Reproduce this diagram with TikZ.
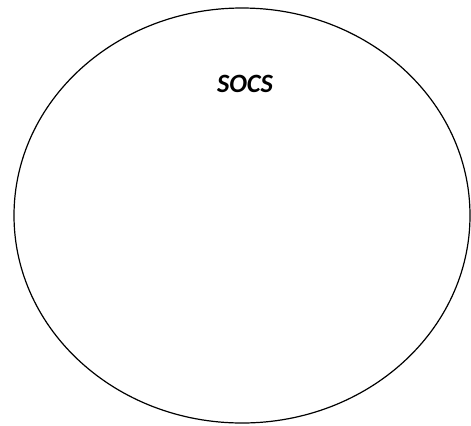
\documentclass[tikz,border=0pt]{standalone}
\usepackage{fontspec}
\setmainfont{Carlito}
\begin{document}
\begin{tikzpicture}[x=1bp,y=-1bp,
  lbl/.style={font=\fontsize{26.5}{30}\selectfont\bfseries\itshape, inner sep=0pt}]
\useasboundingbox (0,0) rectangle (471,425);
\draw[line width=1.2bp] (242,215.5) ellipse [x radius=228, y radius=207.5];
\node[lbl] (socs) at (245,84) {SOCS};
\end{tikzpicture}
\end{document}
